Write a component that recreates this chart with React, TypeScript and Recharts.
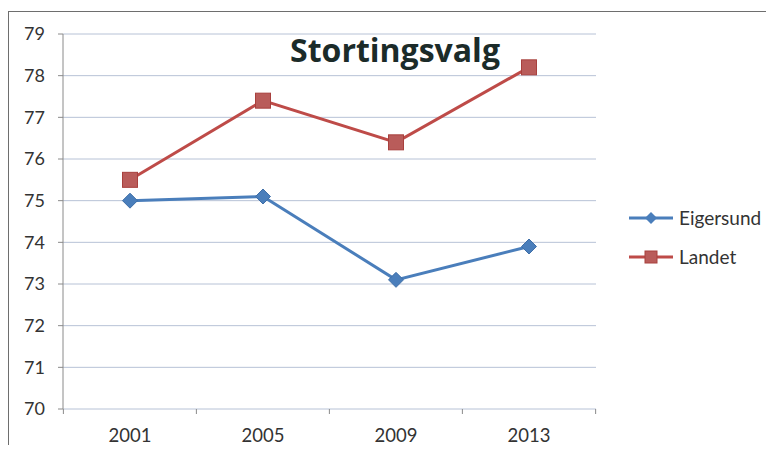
import React from 'react';
import {
  CartesianGrid,
  Legend,
  Line,
  LineChart,
  XAxis,
  YAxis,
} from 'recharts';

const years = ['2001', '2005', '2009', '2013'];
const eigersund = [75.0, 75.1, 73.1, 73.9];
const landet = [75.5, 77.4, 76.4, 78.2];
const yTicks = [70, 71, 72, 73, 74, 75, 76, 77, 78, 79];

const BLUE = '#4a7ebb';
const RED = '#be4b48';
const AXIS = '#8a8a8a';
const FONT = 'Lato, "Open Sans", sans-serif';

const data = years.map((year, i) => ({
  year,
  Eigersund: eigersund[i],
  Landet: landet[i],
}));

// label in the middle of each category, tick marks on the category edges
// eslint-disable-next-line @typescript-eslint/no-explicit-any
const YearTick = (props: any) => {
  const { x, y, payload, width, visibleTicksCount, index } = props;
  const half = width / (2 * visibleTicksCount);
  const axisY = y - 5;
  return (
    <g>
      <line x1={x - half} y1={axisY} x2={x - half} y2={axisY + 5} stroke={AXIS} />
      {index === visibleTicksCount - 1 && (
        <line x1={x + half} y1={axisY} x2={x + half} y2={axisY + 5} stroke={AXIS} />
      )}
      <text
        x={x}
        y={y + 28}
        textAnchor="middle"
        fill="#333"
        fontSize={18.5}
        fontFamily={FONT}
      >
        {payload.value}
      </text>
    </g>
  );
};

// eslint-disable-next-line @typescript-eslint/no-explicit-any
const Diamond = (props: any) => {
  const { cx, cy, index } = props;
  if (cx == null || cy == null) return <g key={`d-${index}`} />;
  const r = 7.5;
  return (
    <path
      key={`d-${index}`}
      d={`M${cx},${cy - r}L${cx + r},${cy}L${cx},${cy + r}L${cx - r},${cy}Z`}
      fill={BLUE}
      stroke="#3f6fa8"
      strokeWidth={1}
    />
  );
};

// eslint-disable-next-line @typescript-eslint/no-explicit-any
const Square = (props: any) => {
  const { cx, cy, index } = props;
  if (cx == null || cy == null) return <g key={`s-${index}`} />;
  const h = 7.5;
  return (
    <rect
      key={`s-${index}`}
      x={cx - h}
      y={cy - h}
      width={h * 2}
      height={h * 2}
      fill="#b95c5a"
      stroke="#a8403d"
      strokeWidth={1}
    />
  );
};

const legendItems = [
  { name: 'Eigersund', color: BLUE, marker: 'diamond' },
  { name: 'Landet', color: RED, marker: 'square' },
];

const ChartLegend = () => (
  <div style={{ fontFamily: FONT, fontSize: 19, color: '#333' }}>
    {legendItems.map(item => (
      <div
        key={item.name}
        style={{ display: 'flex', alignItems: 'center', height: 39 }}
      >
        <svg width={48} height={20} style={{ marginRight: 2 }}>
          <line x1={0} y1={10} x2={44} y2={10} stroke={item.color} strokeWidth={3} />
          {item.marker === 'diamond' ? (
            <path d="M22,4L28,10L22,16L16,10Z" fill={BLUE} />
          ) : (
            <rect x={16} y={4} width={12} height={12} fill="#b95c5a" stroke="#a8403d" />
          )}
        </svg>
        <span>{item.name}</span>
      </div>
    ))}
  </div>
);

export default function App() {
  return (
    <div
      style={{
        position: 'relative',
        width: 766,
        height: 437,
        overflow: 'hidden',
        background: '#fff',
      }}
    >
      <div
        style={{
          position: 'absolute',
          top: 3,
          left: 0,
          width: 800,
          height: 500,
          borderTop: '1px solid #6e6e6e',
          borderLeft: '1px solid #6e6e6e',
        }}
      />
      <LineChart
        width={766}
        height={437}
        data={data}
        margin={{ top: 26, right: 178, bottom: 0, left: 0 }}
      >
        <CartesianGrid vertical={false} stroke="#b7c2d6" />
        <XAxis
          dataKey="year"
          padding={{ left: 67, right: 67 }}
          axisLine={false}
          tickLine={false}
          tickSize={5}
          tickMargin={0}
          height={36}
          interval={0}
          tick={<YearTick />}
        />
        <YAxis
          domain={[70, 79]}
          ticks={yTicks}
          width={55}
          axisLine={{ stroke: AXIS }}
          tickLine={{ stroke: AXIS }}
          tickSize={5}
          tickMargin={13}
          tick={{ fill: '#333', fontSize: 18, fontFamily: FONT }}
        />
        <Line
          dataKey="Eigersund"
          stroke={BLUE}
          strokeWidth={3}
          dot={Diamond}
          activeDot={false}
          isAnimationActive={false}
        />
        <Line
          dataKey="Landet"
          stroke={RED}
          strokeWidth={3}
          dot={Square}
          activeDot={false}
          isAnimationActive={false}
        />
        <Legend
          layout="vertical"
          align="center"
          verticalAlign="middle"
          wrapperStyle={{ left: 621, top: 190, width: 150 }}
          content={<ChartLegend />}
        />
        <text
          x={387}
          y={54}
          textAnchor="middle"
          fontFamily='"Open Sans", sans-serif'
          fontWeight={700}
          fontSize={32}
          fill="#1b2b29"
        >
          Stortingsvalg
        </text>
      </LineChart>
    </div>
  );
}
